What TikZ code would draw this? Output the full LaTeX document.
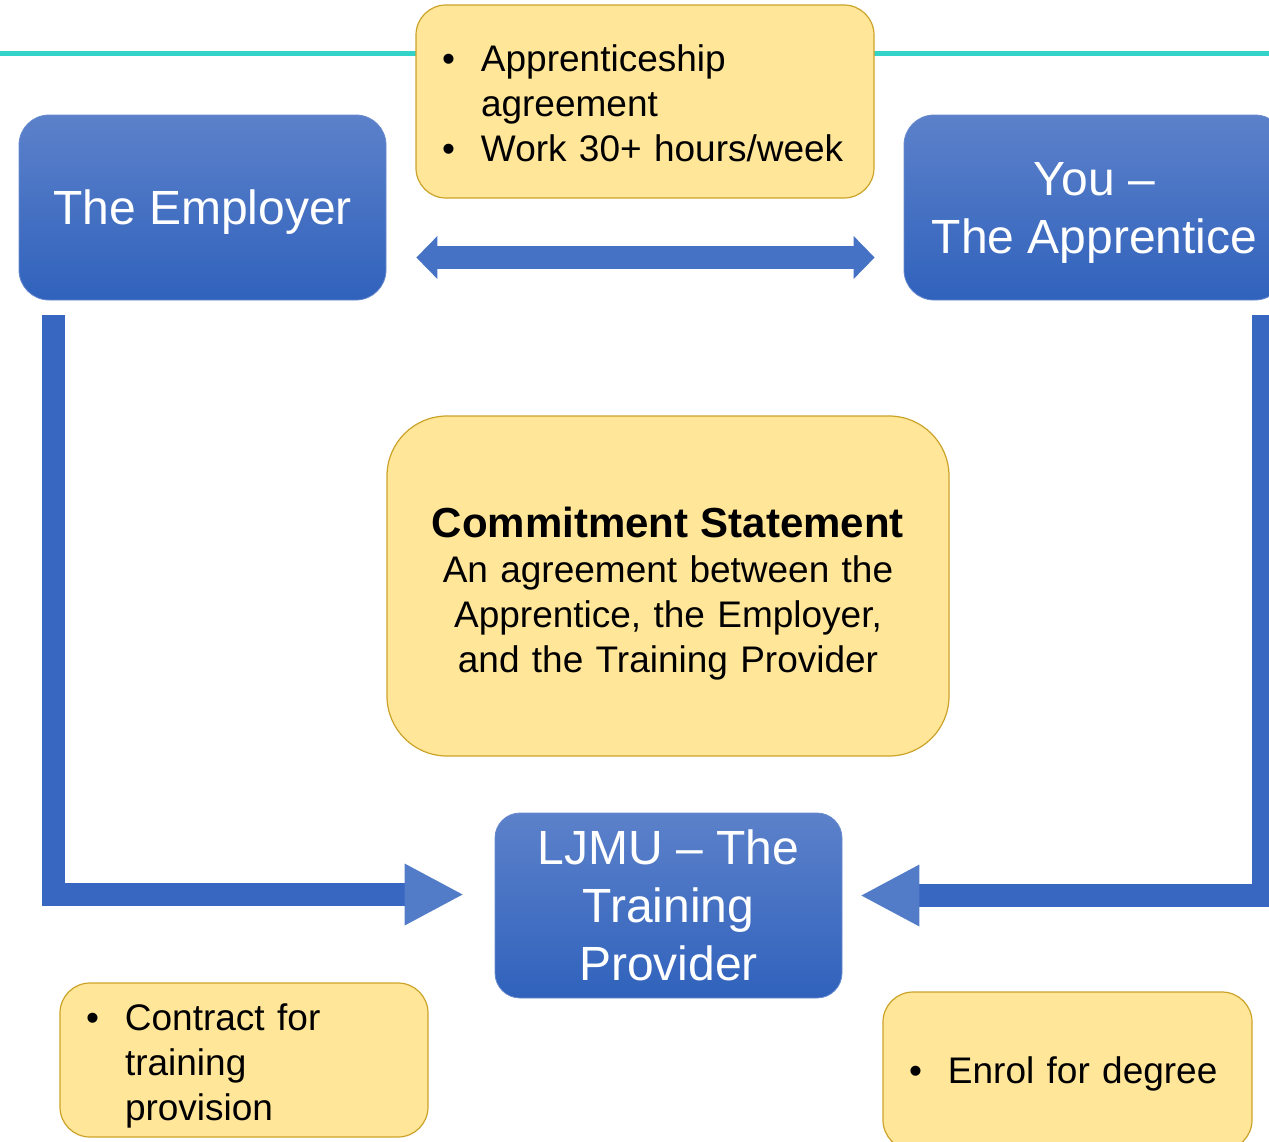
\documentclass[tikz,border=0pt]{standalone}
\usepackage{fontspec}
\setmainfont{Liberation Sans}
\usetikzlibrary{arrows.meta}

\definecolor{boxtop}{RGB}{92,129,202}
\definecolor{boxbot}{RGB}{48,98,188}
\definecolor{boxline}{RGB}{104,138,206}
\definecolor{notefill}{RGB}{255,230,153}
\definecolor{noteline}{RGB}{204,163,41}
\definecolor{arrowbody}{RGB}{56,103,193}
\definecolor{arrowhead}{RGB}{82,124,200}
\definecolor{dblcolor}{RGB}{70,114,197}
\definecolor{rulecol}{RGB}{51,211,199}

\newcommand{\bitem}[1]{\par\leftskip=39pt\noindent\llap{\makebox[39pt][l]{\textbullet}}#1\par}

\begin{document}
\begin{tikzpicture}[x=1pt,y=-1pt,
    bluebox/.style={rounded corners=30pt, top color=boxtop, bottom color=boxbot, draw=boxline, line width=0.8pt,
        text=white, font=\fontsize{48}{58}\selectfont, align=center, inner sep=0pt, text depth=0pt},
    notebox/.style={rounded corners=30pt, fill=notefill, draw=noteline, line width=1.2pt,
        font=\fontsize{37}{45}\selectfont, align=left, inner xsep=26pt, inner ysep=0pt},
    bararrow/.style={draw=arrowbody, line width=23pt,
        -{Triangle[width=62pt,length=58pt,line width=0pt,color=arrowhead,fill=arrowhead]}},
    dblarrow/.style={draw=dblcolor, line width=23pt,
        {Triangle[width=43pt,length=21pt,line width=0pt,color=dblcolor,fill=dblcolor]}-{Triangle[width=43pt,length=21pt,line width=0pt,color=dblcolor,fill=dblcolor]}}]
    \clip (0,0) rectangle (1269,1141);
    \draw[rulecol, line width=5pt] (0,53) -- (1269,53);
    \node[notebox, minimum width=458pt, minimum height=193pt, text width=406pt] (agree) at (645,101.5)
        {\vspace*{-14pt}\bitem{Apprenticeship\\agreement}\bitem{Work 30+ hours/week}};
    \node[bluebox, minimum width=367pt, minimum height=185pt] (emp) at (202.5,207.5) {The Employer};
    \node[bluebox, minimum width=381pt, minimum height=185pt] (app) at (1094.5,207.5) {You --\\The Apprentice};
    \node[notebox, rounded corners=60pt, minimum width=562pt, minimum height=340pt, text width=510pt, align=center] (commit) at (668,586)
        {{\fontsize{42}{45}\selectfont\bfseries\rule{0pt}{46pt}Commitment Statement}\\An agreement between the\\Apprentice, the Employer,\\and the Training Provider};
    \node[bluebox, rounded corners=25pt, minimum width=347pt, minimum height=185pt] (ljmu) at (668.5,905.5) {LJMU -- The\\Training\\Provider};
    \node[notebox, minimum width=368pt, minimum height=154pt, text width=316pt] (contract) at (244,1060)
        {\vspace*{-6pt}\bitem{Contract for\\training\\provision}};
    \node[notebox, minimum width=369pt, minimum height=158pt, text width=317pt] (enrol) at (1067.5,1071)
        {\vspace*{-12pt}\bitem{Enrol for degree}};
    \draw[dblarrow] ([xshift=30pt,yshift=-50pt]emp.east) -- ([xshift=-29pt,yshift=-50pt]app.west);
    \draw[bararrow] ([xshift=34.5pt,yshift=-15pt]emp.south west) |- ([xshift=-32pt,yshift=11pt]ljmu.west);
    \draw[bararrow] ([xshift=-21.5pt,yshift=-15pt]app.south east) |- ([xshift=19pt,yshift=10pt]ljmu.east);
\end{tikzpicture}
\end{document}
